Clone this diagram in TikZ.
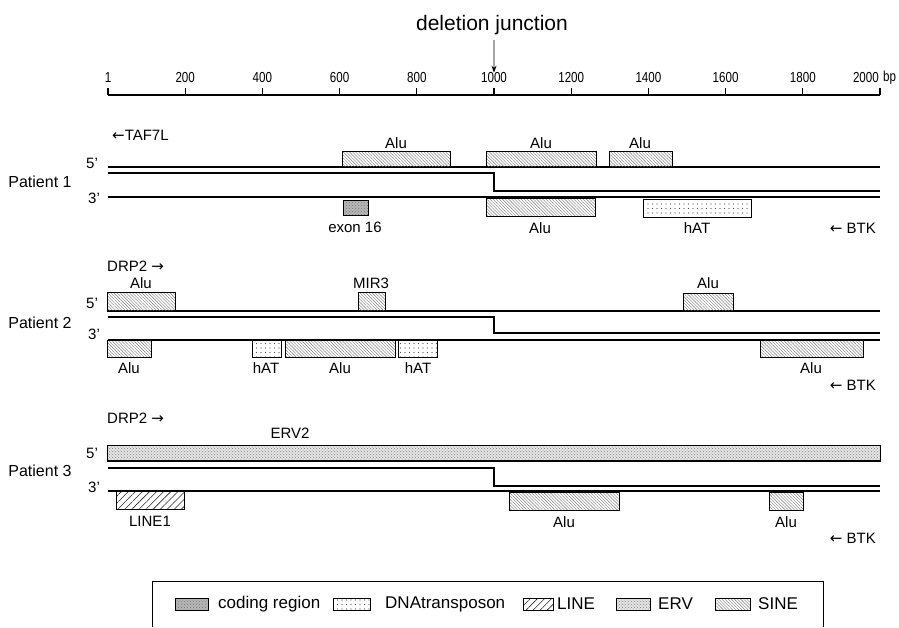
\documentclass[tikz,border=0pt]{standalone}
\usepackage{fontspec}
\setmainfont{Liberation Sans}
\newfontfamily\arrfont{DejaVu Sans}
\newfontfamily\narrowfont[FakeStretch=0.8]{Liberation Sans}
\usetikzlibrary{patterns,patterns.meta,arrows.meta}
\newcommand\featbox[6]{\node[#6, minimum width=#4-#2, minimum height=#5-#3] (#1) at (#2,#3) {};}
\begin{document}
\begin{tikzpicture}[x=1pt,y=-1pt,
  strand/.style={line width=1.2pt},
  seg/.style={draw, line width=0.6pt, rectangle, inner sep=0pt, outer sep=0pt, anchor=north west},
  sine/.style={seg, pattern={Lines[angle=-45,distance=2.2pt,line width=0.4pt]}, pattern color=black!55},
  lineel/.style={seg, pattern={Lines[angle=45,distance=5pt,line width=0.6pt]}, pattern color=black!85},
  erv/.style={seg, preaction={fill=black!10}, pattern=crosshatch dots, pattern color=black!50},
  coding/.style={seg, preaction={fill=black!28}, pattern=crosshatch dots, pattern color=black!55},
  dna/.style={seg, preaction={fill=white}, pattern={Dots[distance=4.5pt,radius=0.7pt]}, pattern color=black!70},
  lbl/.style={inner sep=0pt, font=\fontsize{15}{18}\selectfont},
  plbl/.style={inner sep=0pt, font=\fontsize{16}{19}\selectfont},
  leg/.style={inner sep=0pt, anchor=west, font=\fontsize{17}{20}\selectfont},
  axl/.style={inner sep=0pt, font=\narrowfont\fontsize{14.5}{17}\selectfont},
  jarrow/.style={-{Stealth[length=7pt,width=5pt]}, line width=0.8pt}
]
\useasboundingbox (0,0) rectangle (899,627);

% ---- title and axis
\node[inner sep=0pt, font=\fontsize{21}{24}\selectfont] (dj) at (492,25) {deletion junction};
\draw[line width=1.1pt] (108,95) -- (880,95);
\foreach \v/\t in {0/1,200/200,400/400,600/600,800/800,1000/1000,1200/1200,1400/1400,1600/1600,1800/1800}{
  \draw[line width=1.1pt] (108+0.386*\v,95) -- (108+0.386*\v,88);
  \node[axl] (t\v) at (108+0.386*\v,78) {\t};
}
\draw[line width=1.1pt] (880,95) -- (880,88);
\node[axl, anchor=east] (t2000) at (879,78) {2000};
\node[axl, anchor=west] (bp) at (883,78) {bp};
\coordinate (jstart) at (494,40);
\draw[jarrow] (jstart) -- (t1000.north);

% ---- Patient 1
\node[plbl] (p1) at (40,182) {Patient 1};
\node[lbl] (p1f) at (92,163) {5'};
\node[lbl] (p1t) at (94,198) {3'};
\node[lbl, anchor=west] (taf) at (112,135) {{\arrfont ←}TAF7L};
\node[lbl, anchor=east] (btk1) at (876,228) {{\arrfont ←} BTK};
\draw[strand] (108,167) -- (880,167);
\draw[strand] (108,173) -- (494,173) -- (494,191) -- (880,191);
\draw[strand] (108,197) -- (880,197);
\featbox{p1a}{342}{151}{450}{167}{sine}
\featbox{p1b}{486}{151}{596}{167}{sine}
\featbox{p1c}{609}{151}{672}{167}{sine}
\featbox{p1e}{343}{200}{368}{215}{coding}
\featbox{p1d}{486}{198}{595}{216}{sine}
\featbox{p1h}{643}{199}{751}{217}{dna}
\node[lbl] (p1al) at (396,143) {Alu};
\node[lbl] (p1bl) at (541,143) {Alu};
\node[lbl] (p1cl) at (640,143) {Alu};
\node[lbl] (p1el) at (355,227) {exon 16};
\node[lbl] (p1dl) at (540,228) {Alu};
\node[lbl] (p1hl) at (697,228) {hAT};

% ---- Patient 2
\node[plbl] (p2) at (40,323) {Patient 2};
\node[lbl] (p2f) at (92,303) {5'};
\node[lbl] (p2t) at (94,334) {3'};
\node[lbl, anchor=west] (drp2a) at (107,266) {DRP2 {\arrfont →}};
\node[lbl, anchor=east] (btk2) at (876,385) {{\arrfont ←} BTK};
\draw[strand] (108,311) -- (880,311);
\draw[strand] (108,317) -- (494,317) -- (494,333) -- (880,333);
\draw[strand] (108,340) -- (880,340);
\featbox{p2a}{107}{292}{175}{311}{sine}
\featbox{p2m}{358}{292}{385}{311}{sine}
\featbox{p2b}{683}{293}{733}{311}{sine}
\featbox{p2c}{107}{340}{151}{357}{sine}
\featbox{p2h1}{252}{340}{281}{357}{dna}
\featbox{p2d}{285}{340}{395}{357}{sine}
\featbox{p2h2}{398}{340}{437}{357}{dna}
\featbox{p2e}{760}{340}{863}{357}{sine}
\node[lbl] (p2al) at (141,283) {Alu};
\node[lbl] (p2ml) at (371,283) {MIR3};
\node[lbl] (p2bl) at (708,283) {Alu};
\node[lbl] (p2cl) at (129,368) {Alu};
\node[lbl] (p2h1l) at (266,368) {hAT};
\node[lbl] (p2dl) at (340,368) {Alu};
\node[lbl] (p2h2l) at (418,368) {hAT};
\node[lbl] (p2el) at (811,368) {Alu};

% ---- Patient 3
\node[plbl] (p3) at (40,471) {Patient 3};
\node[lbl] (p3f) at (92,453) {5'};
\node[lbl] (p3t) at (94,487) {3'};
\node[lbl, anchor=west] (drp2b) at (107,418) {DRP2 {\arrfont →}};
\node[lbl, anchor=east] (btk3) at (876,538) {{\arrfont ←} BTK};
\featbox{p3v}{107}{445}{880}{461}{erv}
\draw[strand] (108,461) -- (880,461);
\draw[strand] (108,468) -- (494,468) -- (494,486) -- (880,486);
\draw[strand] (108,491) -- (880,491);
\featbox{p3l}{116}{491}{184}{509}{lineel}
\featbox{p3a}{509}{492}{619}{510}{sine}
\featbox{p3b}{769}{492}{803}{510}{sine}
\node[lbl] (p3vl) at (290,433) {ERV2};
\node[lbl] (p3ll) at (150,521) {LINE1};
\node[lbl] (p3al) at (564,522) {Alu};
\node[lbl] (p3bl) at (786,522) {Alu};

% ---- legend
\draw[line width=0.8pt] (152,627) -- (152,581) -- (823,581) -- (823,627);
\featbox{lg1}{175}{598}{208}{610}{coding}
\featbox{lg2}{333}{598}{370}{610}{dna}
\featbox{lg3}{523}{598}{553}{610}{lineel}
\featbox{lg4}{616}{598}{650}{610}{erv}
\featbox{lg5}{715}{598}{750}{610}{sine}
\node[leg] (lt1) at (218,604) {coding region};
\node[leg] (lt2) at (385,604) {DNAtransposon};
\node[leg] (lt3) at (557,604) {LINE};
\node[leg] (lt4) at (658,604) {ERV};
\node[leg] (lt5) at (758,604) {SINE};
\end{tikzpicture}
\end{document}
